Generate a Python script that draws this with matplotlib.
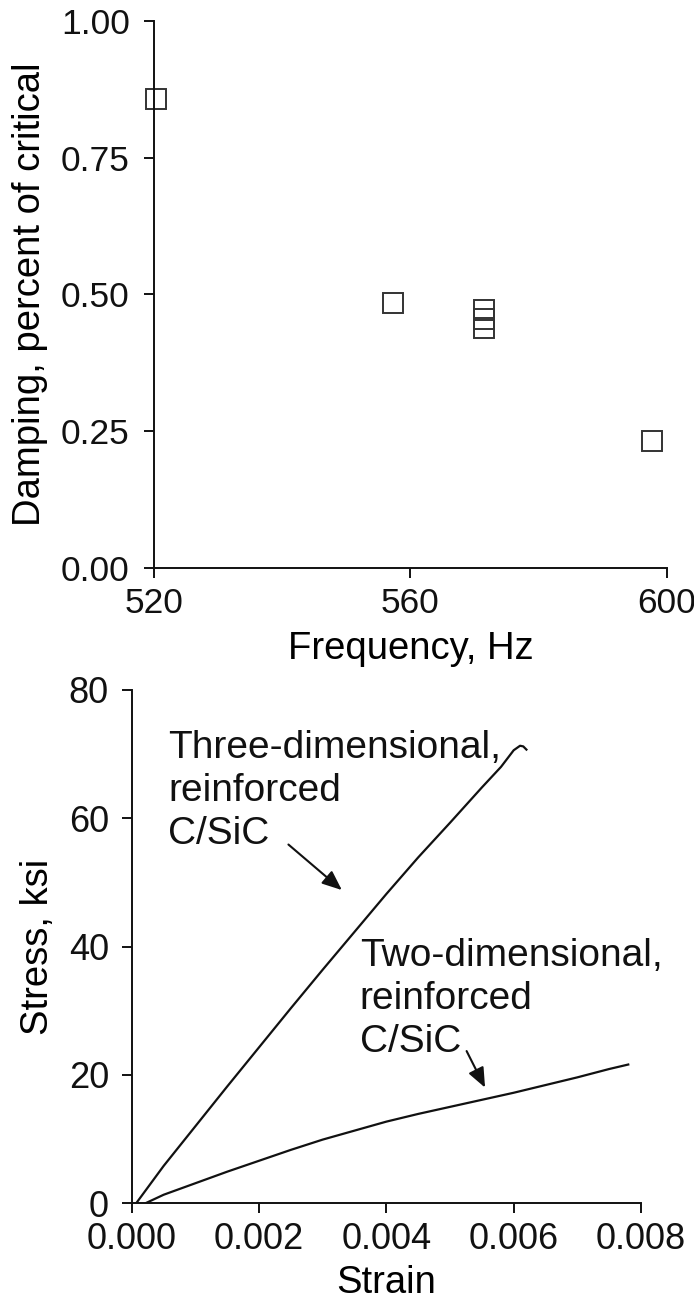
import numpy as np
import matplotlib
matplotlib.use("Agg")
import matplotlib.pyplot as plt

plt.rcParams['font.family'] = ['Liberation Sans', 'DejaVu Sans']

# damping vs frequency (top)
freq = [520.3, 557.3, 571.5, 571.5, 571.5, 597.6]
damping = [0.857, 0.484, 0.471, 0.455, 0.439, 0.233]

# stress-strain curves (bottom)
strain_3d = [0.00007, 0.0005, 0.001, 0.0015, 0.002, 0.0025, 0.003, 0.0035, 0.004,
             0.0045, 0.005, 0.0055, 0.0058, 0.006, 0.0061, 0.00615, 0.0062]
stress_3d = [0.0, 5.8, 12.0, 18.2, 24.3, 30.4, 36.4, 42.3, 48.2,
             53.9, 59.3, 64.8, 68.0, 70.6, 71.3, 71.2, 70.7]
strain_2d = [0.00022, 0.0005, 0.001, 0.0015, 0.002, 0.0025, 0.003, 0.0035, 0.004,
             0.0045, 0.005, 0.0055, 0.006, 0.0065, 0.007, 0.0075, 0.0078]
stress_2d = [0.0, 1.3, 3.1, 4.9, 6.6, 8.3, 9.9, 11.3, 12.7,
             13.9, 15.0, 16.1, 17.2, 18.4, 19.6, 20.9, 21.6]

freq_ticks = [520, 560, 600]
damp_ticks = [0.0, 0.25, 0.5, 0.75, 1.0]
strain_ticks = [0.0, 0.002, 0.004, 0.006, 0.008]
stress_ticks = [0, 20, 40, 60, 80]

label_3d = "Three-dimensional,\nreinforced\nC/SiC"
label_2d = "Two-dimensional,\nreinforced\nC/SiC"

fig = plt.figure(figsize=(6.94, 13.04), dpi=100)
ax1 = fig.add_axes([0.2219, 0.5644, 0.7391, 0.4197])
ax2 = fig.add_axes([0.190, 0.0774, 0.7336, 0.3935])

def style(ax, size, ypad):
    for s in ['top', 'right']:
        ax.spines[s].set_visible(False)
    for s in ['left', 'bottom']:
        ax.spines[s].set_linewidth(1.4)
        ax.spines[s].set_color('#111111')
    ax.tick_params(direction='out', length=7.5, width=1.4, labelsize=size,
                   colors='#111111')
    ax.tick_params(axis='y', pad=ypad)
    ax.tick_params(axis='x', pad=6)

# top chart
ax1.plot(freq, damping, 's', ms=14, mfc='none', mec='#333333', mew=1.4,
         clip_on=False)
ax1.set_xlim(520, 600)
ax1.set_ylim(0, 1.0)
ax1.set_xticks(freq_ticks)
ax1.set_yticks(damp_ticks)
ax1.set_yticklabels(['%.2f' % v for v in damp_ticks])
ax1.set_xlabel("Frequency, Hz", fontsize=27.5, labelpad=8)
ax1.set_ylabel("Damping, percent of critical", fontsize=27.5, labelpad=9)
style(ax1, 25.5, 10)

# bottom chart
ax2.plot(strain_3d, stress_3d, color='#111111', lw=1.6)
ax2.plot(strain_2d, stress_2d, color='#111111', lw=1.6)
ax2.set_xlim(0, 0.008)
ax2.set_ylim(0, 80)
ax2.set_xticks(strain_ticks)
ax2.set_xticklabels(['%.3f' % v for v in strain_ticks])
ax2.set_yticks(stress_ticks)
ax2.set_xlabel("Strain", fontsize=27.5, labelpad=6)
ax2.set_ylabel("Stress, ksi", fontsize=27.5, labelpad=9)
style(ax2, 26, 9)

ax2.text(0.00057, 73.8, label_3d, fontsize=28, ha='left', va='top',
         linespacing=1.25, color='#111111')
ax2.text(0.00358, 41.4, label_2d, fontsize=28, ha='left', va='top',
         linespacing=1.25, color='#111111')
arrow = dict(arrowstyle='-|>,head_length=0.6,head_width=0.25', lw=1.5,
             color='#111111', mutation_scale=20, shrinkA=0, shrinkB=0)
ax2.annotate('', xy=(0.0033, 48.8), xytext=(0.00246, 55.9), arrowprops=arrow)
ax2.annotate('', xy=(0.00555, 18.0), xytext=(0.00526, 23.7), arrowprops=arrow)

fig.savefig("out.png", dpi=100)
